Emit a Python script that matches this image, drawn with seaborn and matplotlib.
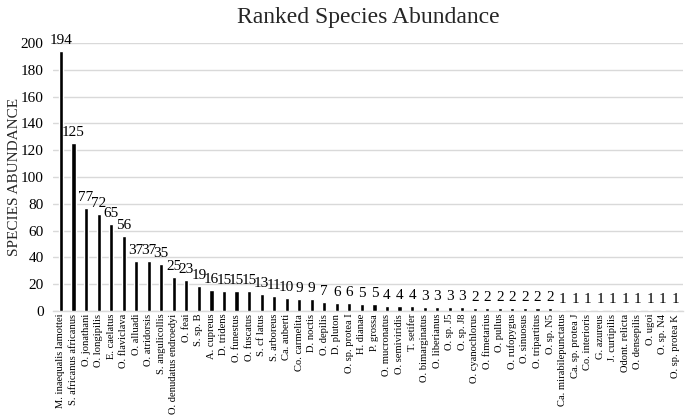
import matplotlib
matplotlib.use("Agg")
import matplotlib.pyplot as plt
import seaborn as sns
import pandas as pd

species = ["M. inaequalis lamottei", "S. africanus africanus", "O. jonathani", "O. longipilis",
           "E. caelatus", "O. flaviclava", "O. alluadi", "O. atridorsis", "S. angulicollis",
           "O. denudatus endroedyi", "O. feai", "S. sp. B", "A. cupreus", "D. tridens",
           "O. funestus", "O. fuscatus", "S. cf latus", "S. arboreus", "Ca. auberti",
           "Co. carmelita", "D. noctis", "O. depilis", "D. pluton", "O. sp. protea I",
           "H. dianae", "P. grossa", "O. mucronatus", "O. semiviridis", "T. setifer",
           "O. bimarginatus", "O. liberianus", "O. sp. J5", "O. sp. J8", "O. cyanochlorus",
           "O. fimetarius", "O. pullus", "O. rufopygus", "O. sinuosus", "O. tripartitus",
           "O. sp. N5", "Ca. mirabilepunctatus", "Ca. sp. protea J", "Co. interioris",
           "G. azureus", "J. curtipilis", "Odont. relicta", "O. densepilis", "O. ugoi",
           "O. sp. N4", "O. sp. protea K"]
abundance = [194, 125, 77, 72, 65, 56, 37, 37, 35, 25, 23, 19, 16, 15, 15, 15, 13, 11, 10,
             9, 9, 7, 6, 6, 5, 5, 4, 4, 4, 3, 3, 3, 3, 2, 2, 2, 2, 2, 2, 2,
             1, 1, 1, 1, 1, 1, 1, 1, 1, 1]
yticks = list(range(0, 201, 20))

df = pd.DataFrame({"species": species, "abundance": abundance})

sns.set_theme(style="white")
plt.rcParams["font.family"] = ["Liberation Serif", "DejaVu Serif"]

fig = plt.figure(figsize=(6.85, 4.15), dpi=100)
ax = fig.add_axes([0.078, 0.2506, 0.919, 0.646])

sns.barplot(data=df, x="species", y="abundance", color="black", width=0.33,
            saturation=1, ax=ax, zorder=3)

ax.set_ylim(0, 200)
ax.set_yticks(yticks)
ax.set_xlim(-0.6, len(species) - 0.4)
ax.yaxis.grid(True, color="#d9d9d9", linewidth=1, zorder=0)
ax.set_axisbelow(True)
for s in ["top", "right", "left"]:
    ax.spines[s].set_visible(False)
ax.spines["bottom"].set_color("#d9d9d9")
ax.spines["bottom"].set_linewidth(1)

ax.tick_params(axis="y", labelsize=11, length=0, pad=7, colors="black")
ax.tick_params(axis="x", labelsize=7.6, length=0, pad=2, colors="black")
ax.set_xticks(range(len(species)))
ax.set_xticklabels(species, rotation=90)

for i, v in enumerate(abundance):
    ax.text(i, v + 3, str(v), ha="center", va="bottom", fontsize=11, color="black")

ax.set_xlabel("")
ax.set_ylabel("SPECIES ABUNDANCE", fontsize=11)
ax.yaxis.set_label_coords(-0.052, 0.5)
ax.set_title("Ranked Species Abundance", fontsize=17, pad=14)

fig.savefig("out.png", dpi=100)
